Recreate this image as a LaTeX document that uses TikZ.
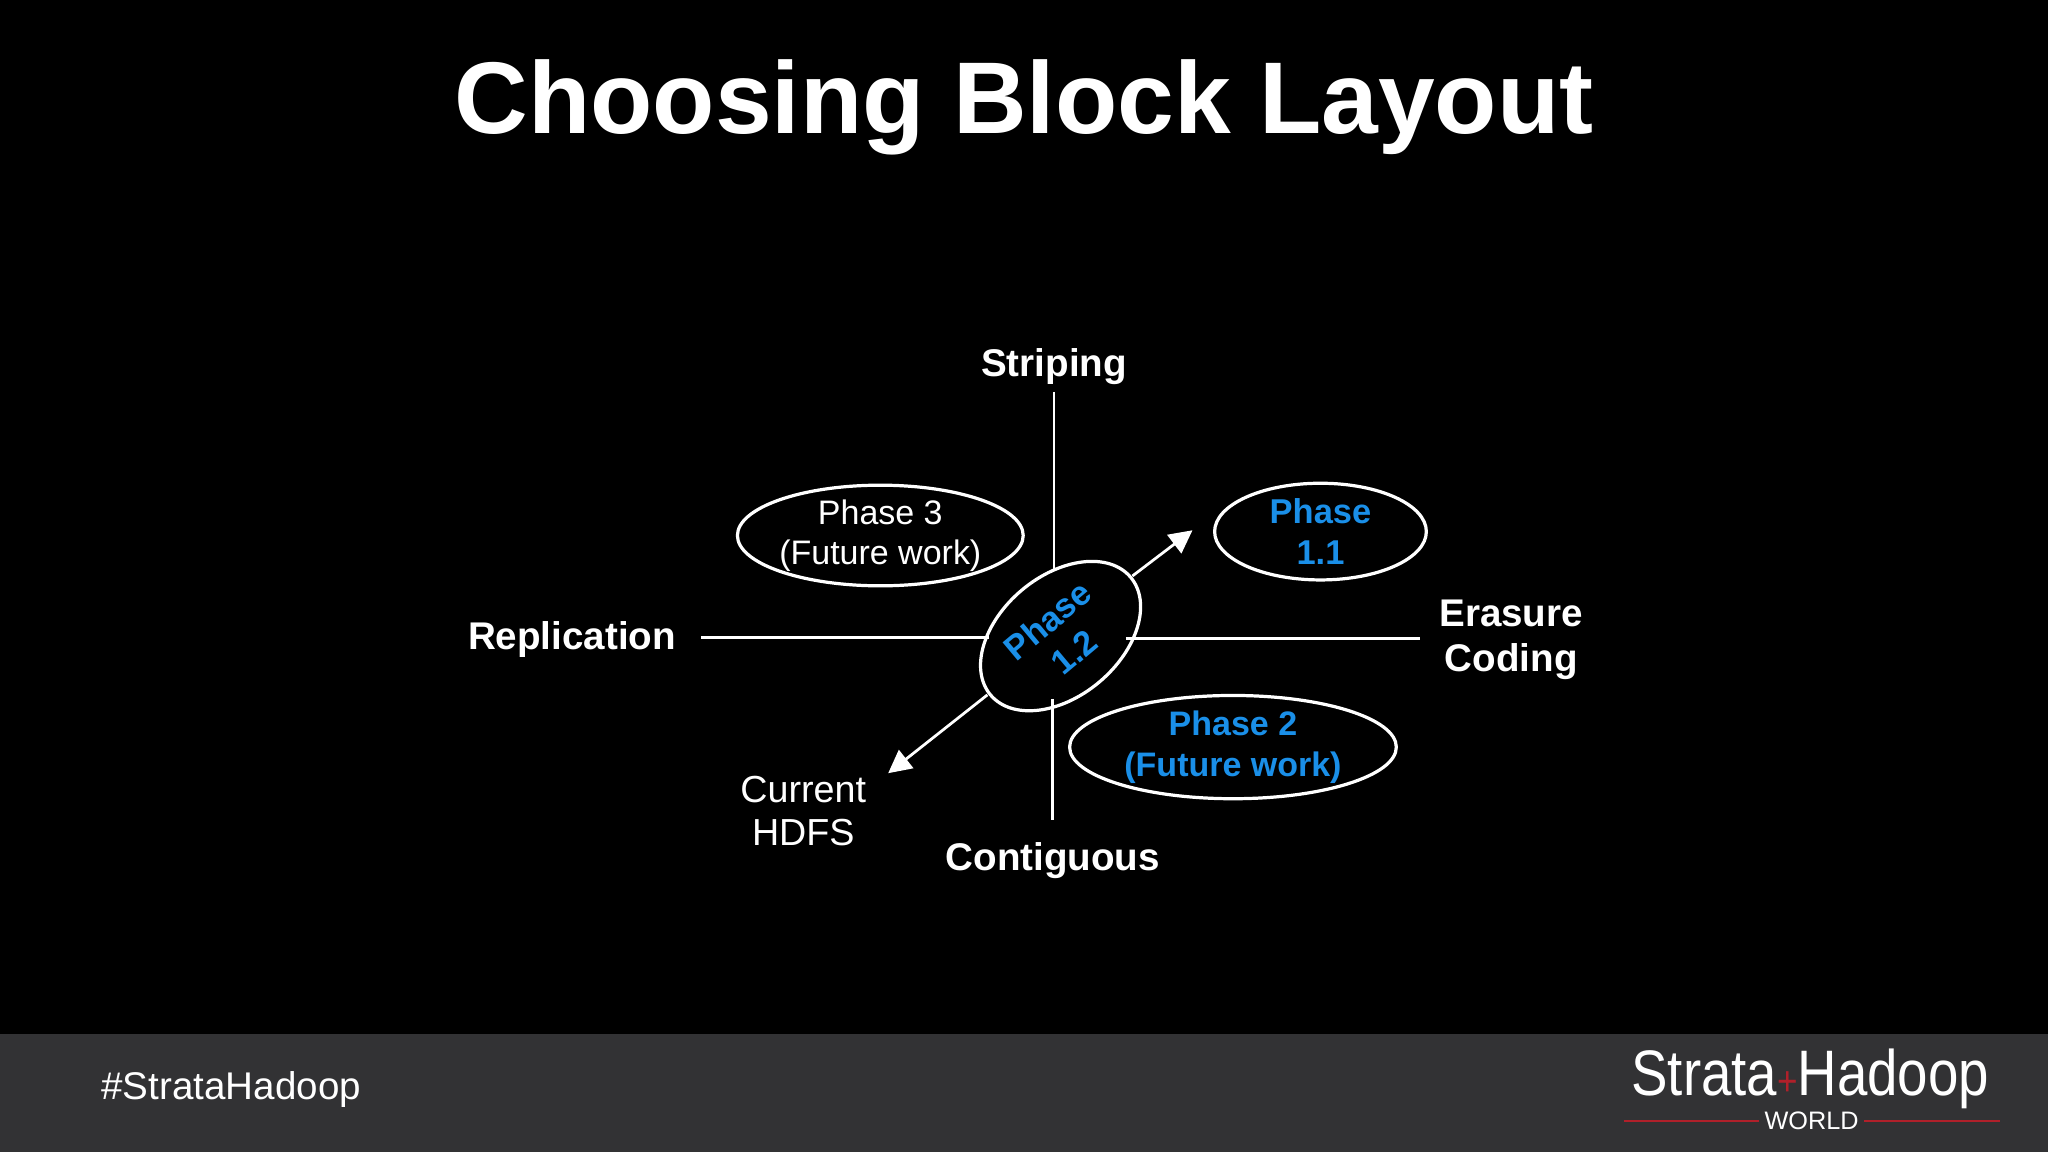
\documentclass[tikz,border=0pt]{standalone}
\usepackage{fontspec}
\setmainfont{Liberation Sans}
\usetikzlibrary{shapes.geometric,arrows.meta}
\definecolor{pblue}{HTML}{1A8FE8}
\definecolor{foot}{HTML}{323234}
\definecolor{lred}{HTML}{B0202A}
\tikzset{
  lab/.style={text=white,font=\fontsize{8.4}{10}\selectfont\bfseries,align=center},
  ell/.style={draw=white,line width=0.7pt,ellipse,align=center,inner sep=0pt},
  ax/.style={draw=white,line width=0.6pt},
  arr/.style={draw=white,line width=0.6pt,-{Triangle[length=5pt,width=5pt]}}
}
\begin{document}
\begin{tikzpicture}[x=0.01cm,y=-0.01cm]
\fill[black] (0,0) rectangle (1568,882);
\fill[foot] (0,792) rectangle (1568,882);
\node[text=white,font=\fontsize{22.2}{26}\selectfont\bfseries] (title) at (784,82) {Choosing Block Layout};
\node[lab] (str) at (807,281) {Striping};
\node[lab] (con) at (806,659) {Contiguous};
\node[lab] (rep) at (438,490) {Replication};
\node[lab,font=\fontsize{8.4}{9.8}\selectfont\bfseries] (ec) at (1157,490) {Erasure\\Coding};
\node[text=white,font=\fontsize{8.2}{9.3}\selectfont,align=center] (hdfs) at (615,621) {Current\\HDFS};
\coordinate (sT) at (807,300); \coordinate (sB) at (807,437);
\coordinate (cT) at (806,535); \coordinate (cB) at (806,628);
\coordinate (rL) at (537,488); \coordinate (rR) at (757,488);
\coordinate (eL) at (862,489); \coordinate (eR) at (1087,489);
\draw[ax] (sT) -- (sB);
\draw[ax] (cT) -- (cB);
\draw[ax] (rL) -- (rR);
\draw[ax] (eL) -- (eR);
\node[ell,minimum width=2.16cm,minimum height=0.74cm,text=white,font=\fontsize{7.4}{8.6}\selectfont] (p3) at (674,410) {Phase 3\\(Future work)};
\node[ell,minimum width=1.62cm,minimum height=0.74cm,text=pblue,font=\fontsize{7.5}{9}\selectfont\bfseries] (p11) at (1011,407) {Phase\\1.1};
\node[ell,minimum width=2.5cm,minimum height=0.76cm,text=pblue,font=\fontsize{7.4}{9}\selectfont\bfseries] (p2) at (944,572) {Phase 2\\(Future work)};
\node[ell,rotate=40,minimum width=1.4cm,minimum height=0.92cm,text=pblue,font=\fontsize{7.5}{9}\selectfont\bfseries] (p12) at (812,487) {Phase\\1.2};
\coordinate (a1s) at (867,441);
\coordinate (a2s) at (756,532);
\coordinate (a1e) at (913,406);
\coordinate (a2e) at (680,592);
\draw[arr] (a1s) -- (a1e);
\draw[arr] (a2s) -- (a2e);
\node[text=white,font=\fontsize{8.4}{10}\selectfont] (tag) at (177,834) {\#StrataHadoop};
\node[text=white,font=\fontsize{14}{16}\selectfont\addfontfeature{FakeStretch=0.85}] (logo) at (1386,826) {Strata\textcolor{lred}{\fontsize{9}{9}\selectfont +}Hadoop};
\node[text=white,font=\fontsize{5.5}{6}\selectfont] (world) at (1387,858) {WORLD};
\coordinate (l1a) at (1243,858); \coordinate (l1b) at (1347,858);
\coordinate (l2a) at (1427,858); \coordinate (l2b) at (1531,858);
\draw[lred,line width=0.5pt] (l1a) -- (l1b);
\draw[lred,line width=0.5pt] (l2a) -- (l2b);
\end{tikzpicture}
\end{document}
